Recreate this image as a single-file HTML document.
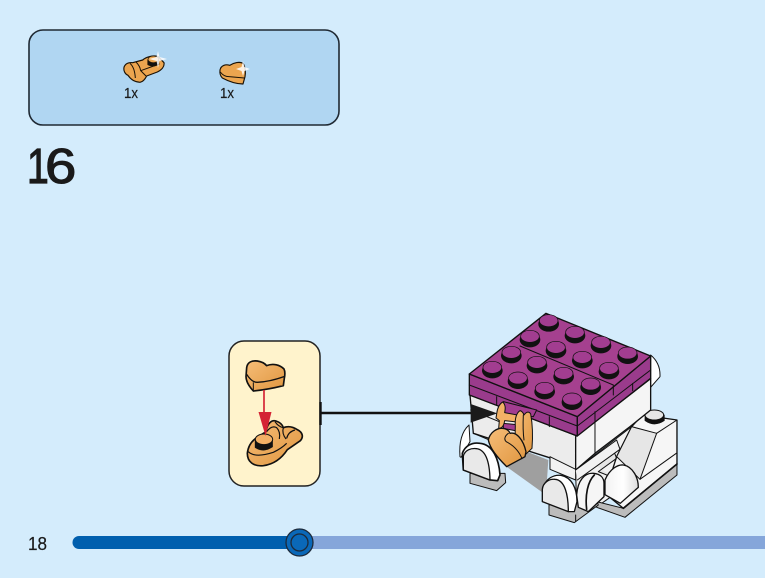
<!DOCTYPE html>
<html><head><meta charset="utf-8"><style>
html,body{margin:0;padding:0;background:#d4ecfc}
svg{display:block}
text{font-family:"Liberation Sans",sans-serif;fill:#1a1a1a}
</style></head><body>
<svg width="765" height="578" viewBox="0 0 765 578" xmlns="http://www.w3.org/2000/svg">
<defs>
<linearGradient id="o" x1="0" y1="0" x2="1" y2="1"><stop offset="0" stop-color="#f6bd78"/><stop offset="1" stop-color="#e0963f"/></linearGradient>
<linearGradient id="cyl" x1="0" y1="0" x2="1" y2="0"><stop offset="0" stop-color="#f2f2f2"/><stop offset=".55" stop-color="#fff"/><stop offset="1" stop-color="#dcdcdc"/></linearGradient>
</defs>
<rect width="765" height="578" fill="#d4ecfc"/>
<rect x="29" y="30" width="310" height="95" rx="14" fill="#b0d6f2" stroke="#1f2933" stroke-width="1.6"/>
<text transform="translate(27,183) scale(.8,1)" font-size="49" stroke="#1a1a1a" stroke-width="1.200">1</text>
<text transform="translate(45,183) scale(1.15,1)" font-size="49" stroke="#1a1a1a" stroke-width="1.100">6</text>
<text x="124" y="98" font-size="15" textLength="14" lengthAdjust="spacingAndGlyphs" stroke="#1a1a1a" stroke-width=".2">1x</text>
<text x="220" y="98" font-size="15" textLength="14" lengthAdjust="spacingAndGlyphs" stroke="#1a1a1a" stroke-width=".2">1x</text>
<text x="28" y="550" font-size="18" textLength="19" lengthAdjust="spacingAndGlyphs" stroke="#1a1a1a" stroke-width=".2">18</text>

<!-- parts list -->
<g transform="translate(120,50) scale(.3333)" stroke="#1a1206" stroke-width="3.500" stroke-linejoin="round" fill="#eca54f">
<path d="M12 52 C15 42 25 36 38 38 L68 30 C80 20 100 15 115 20 L132 38 C134 50 125 60 112 66 L80 78 C75 88 70 95 60 97 C40 96 30 85 24 76 C15 72 10 62 12 52Z"/>
<path d="M30 40 Q44 52 46 84 M48 36 Q60 48 62 62 L78 78 M62 62 L118 42" fill="none" stroke-width="3"/>
<path d="M84 30 V44 Q100 52 116 42 V30Z" fill="#111"/>
<ellipse cx="100" cy="28" rx="16" ry="10" stroke-width="2"/>
</g>
<g transform="translate(219,60) scale(.3333)" stroke="#1a1206" stroke-width="3.500" stroke-linejoin="round" fill="#eca54f">
<path d="M3 30 C6 16 20 12 32 16 C45 8 62 4 72 10 C80 22 80 40 78 50 L72 72 C50 72 25 62 10 54 C2 46 2 38 3 30Z"/>
<path d="M4 36 Q14 50 30 50 L76 54" fill="none" stroke-width="3"/>
</g>
<g fill="#fff" opacity=".85">
<path d="M158 51 L159.500 57 L167 59 L159.500 61 L158 68 L156.500 61 L149 59 L156.500 57Z"/>
<path d="M243 61 L244.500 67 L250 69 L244.500 71 L243 76 L241.500 71 L236 69 L241.500 67Z"/>
</g>

<!-- callout -->
<rect x="229" y="341" width="91" height="145" rx="15" fill="#fff3cc" stroke="#222" stroke-width="1.500"/>
<path d="M320.500 402V425" stroke="#111" stroke-width="2.400"/>
<path d="M320 413H472" stroke="#111" stroke-width="2.400"/>
<g transform="translate(220,335) scale(.3333)" stroke-linejoin="round">
<path d="M80 98 C82 82 95 76 112 78 C125 80 135 86 140 92 C160 84 180 90 192 102 C196 110 194 125 193 130 L190 152 C150 162 120 166 100 168 C88 155 78 140 78 125Z" fill="url(#o)" stroke="#111" stroke-width="5"/>
<path d="M80 118 Q95 142 112 142 Q150 140 194 124" fill="none" stroke="#111" stroke-width="4"/>
<path d="M100 142 L100 168" stroke="#111" stroke-width="3"/>
<path d="M132 165V240" stroke="#d42334" stroke-width="5"/>
</g>
<g transform="translate(240,415) scale(.3333)" stroke="#111" stroke-linejoin="round">
<path d="M22 115 C24 95 35 78 50 68 L78 50 C82 25 95 14 108 18 C120 22 128 30 130 38 C145 32 160 36 172 44 C188 52 192 66 180 78 L142 104 C125 130 100 148 70 152 C40 155 22 140 22 115Z" fill="url(#o)" stroke-width="5"/>
<path d="M25 110 Q45 130 100 112 Q125 100 140 85" fill="none" stroke-width="3.500"/>
<path d="M80 50 Q95 30 110 38 Q122 50 118 72 M105 20 Q115 35 130 38 M130 38 Q125 55 138 72 M140 70 Q145 50 165 45" fill="none" stroke-width="3.500"/>
<path d="M45 75 V98 Q70 115 98 96 V72Z" fill="#111" stroke-width="1"/>
<ellipse cx="72" cy="73" rx="26" ry="16" fill="#f2b066" stroke-width="3"/>
</g>
<path d="M258.500 412H271.500L265.500 436Z" fill="#d42334"/>

<!-- progress -->
<path d="M300 536H765V549H300Z" fill="#85a6da"/>
<path d="M79 536H300V549H79A6.500 6.500 0 0 1 79 536Z" fill="#005fae"/>
<circle cx="299.500" cy="542.500" r="13.500" fill="#0a68b8" stroke="#1d2a3a" stroke-width="1.300"/>
<circle cx="299.500" cy="542.500" r="8.500" fill="#0a68b8" stroke="#1d2a3a" stroke-width="1.300"/>

<!-- model -->
<g transform="translate(440,300) scale(.3333)" stroke="#111" stroke-linejoin="round" stroke-linecap="round">
<path d="M632 165 Q662 190 660 230 L632 262Z" fill="#fff" stroke-width="3"/>

<!-- right-hand block, crop A coords -->
<g transform="translate(285,300)">
<path d="M122 210 L290 80 L300 240 L200 310 L125 335Z" fill="#f2f2f2" stroke-width="3"/>
<path d="M180 195 L235 150 L245 175 L190 215 L240 235" fill="#e6e6e6" stroke-width="3"/>
<path d="M185 305 L265 325 L426 190 L426 225 L270 352 L185 322Z" fill="#bcbcbc" stroke-width="3"/>
<path d="M290 80 L322 45 L426 60 L426 192 L265 325 L210 280 L245 170Z" fill="#f6f6f6" stroke-width="4"/>
<path d="M265 325 L426 192" fill="none" stroke-width="5"/>
<path d="M290 80 L245 170 L315 238 L365 100Z" fill="#e6e6e6" stroke-width="3"/>
<path d="M365 100 L426 60 M315 238 L424 160" fill="none" stroke-width="3"/>
<path d="M330 45 V62 Q358 82 388 62 V45Z" fill="#111" stroke-width="2"/>
<ellipse cx="358" cy="45" rx="28" ry="15" fill="#e6e6e6" stroke-width="3"/>
</g>

<!-- underside, left body -->
<path d="M195 497 L260 455 L325 480 L318 585Z" fill="#9f9f9f" stroke="none"/>
<path d="M90 285 L412 408 L407 510 L325 472 L262 452 L100 400Z" fill="#ececec" stroke-width="4"/>
<path d="M330 470 L407 508 L407 540 L330 508Z" fill="#f2f2f2" stroke-width="3"/>
<path d="M92 330 L190 370 M100 400 L160 425" fill="none" stroke-width="3"/>
<path d="M407 410 L632 236 L632 330 L570 380 L465 460 L407 510Z" fill="#f5f5f5" stroke-width="4"/>
<path d="M465 372 L465 462" fill="none" stroke-width="3"/>
<path d="M407 510 L530 420 L540 448 L412 540" fill="#f2f2f2" stroke-width="3"/>

<!-- left foot, crop B coords -->
<g transform="translate(45,360)">
<path d="M15 110 C12 70 20 35 42 15 L45 65 L18 112Z" fill="#fff" stroke-width="3"/>
<path d="M45 160 V190 L125 212 L152 188 L150 160Z" fill="#bcbcbc" stroke-width="3"/>
<path d="M22 100 C30 78 50 66 75 70 C115 74 132 120 135 165 L128 182 L105 180 L25 150Z" fill="#fff" stroke-width="5"/>
<path d="M25 150 V108 C30 90 48 84 65 86 C92 90 104 125 105 180Z" fill="#e9e9e9" stroke-width="4"/>
</g>

<!-- front feet, crop A coords -->
<g transform="translate(285,300)">
<path d="M42 315 V345 L118 368 L190 315 L180 285Z" fill="#bcbcbc" stroke-width="3"/>
<path d="M122 365 V345" fill="none" stroke-width="3"/>
<path d="M24 262 C35 235 55 224 78 226 C110 232 126 265 126 305 L118 335 L100 335Z" fill="#fff" stroke-width="4"/>
<path d="M22 305 V268 C24 248 42 236 60 238 C90 240 100 285 100 335Z" fill="#e9e9e9" stroke-width="4"/>
<path d="M125 285 C128 240 150 218 175 220 C198 222 207 235 207 250 V290 L160 335 L130 322Z" fill="#f6f6f6" stroke-width="4"/>
<path d="M155 328 C150 285 158 245 178 225" fill="none" stroke-width="5"/>
<path d="M210 240 C225 205 250 193 265 195 C295 200 310 235 310 262 L256 310 L210 284Z" fill="url(#cyl)" stroke-width="4"/>
</g>

<!-- purple -->
<path d="M88 222 L412 350 L412 408 L88 285Z" fill="#9a3b8c" stroke-width="4"/>
<path d="M412 350 L632 168 L632 235 L412 408Z" fill="#9a3b8c" stroke-width="4"/>
<path d="M88 222 L318 40 L632 168 L412 350Z" fill="#a5408f" stroke-width="4"/>
<path d="M88 255 L412 378 L632 210 M240 138 L520 255 M520 255 V285 M578 250 V272 M170 290 V315 M250 320 V350 M328 350 V380 M465 335 V370" fill="none" stroke-width="3"/>
<g stroke-width="2">
<g id="s"><ellipse cx="326" cy="72" rx="30" ry="22" fill="#111"/><ellipse cx="326" cy="62" rx="28" ry="18" fill="#a23d90"/></g>
<use href="#s" x="79" y="35"/><use href="#s" x="157" y="65"/><use href="#s" x="237" y="97"/>
<use href="#s" x="-56" y="47"/><use href="#s" x="22" y="80"/><use href="#s" x="101" y="110"/><use href="#s" x="181" y="143"/>
<use href="#s" x="-112" y="95"/><use href="#s" x="-35" y="125"/><use href="#s" x="45" y="158"/><use href="#s" x="126" y="190"/>
<use href="#s" x="-169" y="140"/><use href="#s" x="-92" y="172"/><use href="#s" x="-12" y="203"/><use href="#s" x="70" y="235"/>
</g>
<path d="M92 312 L172 340 L92 368Z" fill="#1a1a1a" stroke="none"/>

<!-- orange part -->
<path d="M190 305 L290 330 L280 350 L190 345Z" fill="#a23d90" stroke-width="3"/>
<path d="M190 370 L240 375 L240 395 L190 385Z" fill="#a23d90" stroke-width="3"/>
<path d="M170 342 C172 325 178 312 188 306 C198 315 196 328 194 338 L248 348 L248 368 L194 362 C192 375 186 385 176 385 L178 362 L168 354Z" fill="#f2b166" stroke-width="3"/>
<path d="M226 378 C224 355 230 338 240 332 C248 334 250 340 252 345 C260 334 268 334 272 342 C280 385 278 420 276 445 L250 470 L225 420Z" fill="url(#o)" stroke-width="3"/>
<path d="M250 345 Q248 390 252 420" fill="none" stroke-width="3"/>
<path d="M145 420 C150 397 170 385 185 385 C200 385 208 393 210 400 C230 395 250 420 258 455 L255 470 L200 500 C170 470 150 445 145 420Z" fill="url(#o)" stroke-width="4"/>
<path d="M205 400 C192 410 192 420 200 426 C225 438 240 460 246 476" fill="none" stroke-width="3"/>
</g>
</svg>
</body></html>
